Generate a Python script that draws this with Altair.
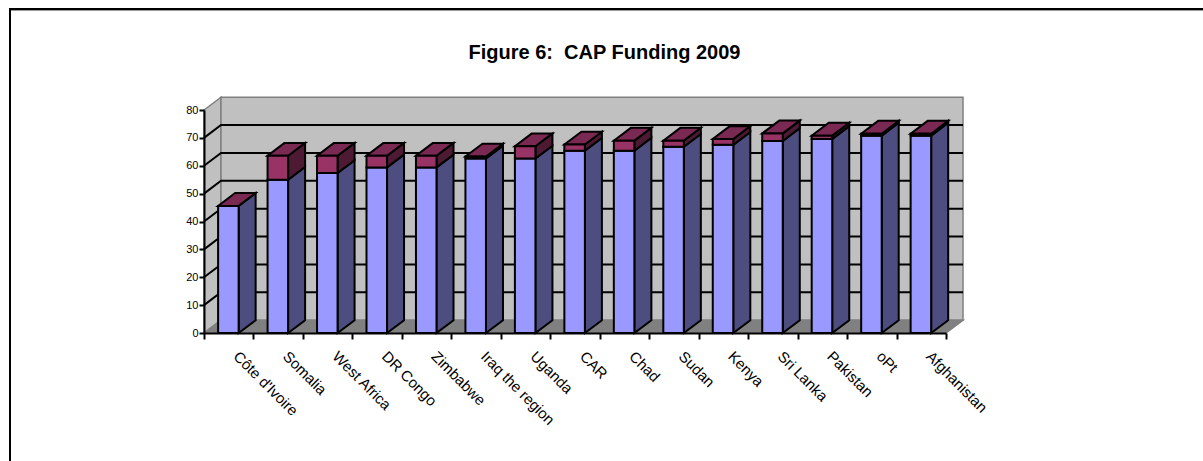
import altair as alt
import pandas as pd

# CAP funding 2009, per appeal, in percent
categories = ["Côte d'Ivoire", "Somalia", "West Africa", "DR Congo", "Zimbabwe",
              "Iraq the region", "Uganda", "CAR", "Chad", "Sudan", "Kenya",
              "Sri Lanka", "Pakistan", "oPt", "Afghanistan"]
lower_values = [45.6, 55.0, 57.4, 59.4, 59.4, 62.6, 62.6, 65.4, 65.4, 66.8, 67.5,
                68.9, 69.6, 70.8, 70.8]
total_values = [45.6, 63.6, 63.6, 63.6, 63.6, 63.3, 67.0, 67.6, 69.0, 69.0, 69.6,
                71.6, 70.8, 71.5, 71.5]
y_ticks = [0, 10, 20, 30, 40, 50, 60, 70, 80]
chart_title = "Figure 6:\u00a0 CAP Funding 2009"

N = len(categories)
DEPTH_X = 0.344   # receding depth of the box, in category units
DEPTH_Y = 4.6     # receding depth of the box, in value units
BAR_START = 0.285
BAR_WIDTH = 0.415
FONT = "Liberation Sans"

BLUE, BLUE_SIDE = "#9999FF", "#4D4D80"
MAROON, MAROON_SIDE, MAROON_TOP = "#993366", "#4D1933", "#7A2952"
WALL, FLOOR, EDGE = "#C0C0C0", "#808080", "#808080"

x_scale = alt.Scale(domain=[0, N], nice=False, zero=False)
y_scale = alt.Scale(domain=[0, 80], nice=False, zero=False)
x_axis = alt.Axis(
    values=list(range(N + 1)), labels=False, tickSize=6, tickWidth=2, tickColor="black",
    domainColor="black", domainWidth=2, grid=False, zindex=1, title=None)
y_axis = alt.Axis(
    values=y_ticks, tickSize=5, tickWidth=2, tickColor="black", domainColor="black",
    domainWidth=2, grid=False, labelFont=FONT, labelFontSize=11, labelColor="black",
    labelPadding=1, zindex=1, title=None)
X = lambda f: alt.X(f, type="quantitative", scale=x_scale, axis=x_axis, stack=None)
Y = lambda f: alt.Y(f, type="quantitative", scale=y_scale, axis=y_axis, stack=None)


def vertical_face(rows, fill, stroke, width):
    """Parallelogram with two vertical edges."""
    return alt.Chart(pd.DataFrame(rows)).mark_area(
        orient="vertical", fill=fill, stroke=stroke, strokeWidth=width, opacity=1
    ).encode(x=X("x"), y=Y("y"), y2="y2:Q", detail="id:N")


def horizontal_face(rows, fill, stroke, width):
    """Parallelogram with two horizontal edges."""
    return alt.Chart(pd.DataFrame(rows)).mark_area(
        orient="horizontal", fill=fill, stroke=stroke, strokeWidth=width, opacity=1
    ).encode(y=Y("y"), x=X("x"), x2="x2:Q", detail="id:N")


def side_rows(lows, highs):
    rows = []
    for i, (lo, hi) in enumerate(zip(lows, highs)):
        if hi <= lo:
            continue
        right = i + BAR_START + BAR_WIDTH
        rows.append(dict(id=i, x=right, y=hi, y2=lo))
        rows.append(dict(id=i, x=right + DEPTH_X, y=hi + DEPTH_Y, y2=lo + DEPTH_Y))
    return rows


# Chart box: left wall, back wall and floor
left_wall = vertical_face(
    [dict(id=0, x=0, y=80, y2=0), dict(id=0, x=DEPTH_X, y=80 + DEPTH_Y, y2=DEPTH_Y)],
    WALL, EDGE, 1.5)
back_wall = alt.Chart(pd.DataFrame([dict(x=DEPTH_X, x2=N + DEPTH_X, y=DEPTH_Y, y2=80 + DEPTH_Y)])).mark_rect(
    fill=WALL, stroke=EDGE, strokeWidth=1.5, opacity=1
).encode(x=X("x"), x2="x2:Q", y=Y("y"), y2="y2:Q")
floor = horizontal_face(
    [dict(id=0, y=0, x=0, x2=N), dict(id=0, y=DEPTH_Y, x=DEPTH_X, x2=N + DEPTH_X)],
    FLOOR, EDGE, 1.5)

# Gridlines run up the left wall, then across the back wall
grid_rows = []
for v in y_ticks[1:-1]:
    grid_rows += [dict(v=v, s=0, x=0, y=v),
                  dict(v=v, s=1, x=DEPTH_X, y=v + DEPTH_Y),
                  dict(v=v, s=2, x=N + DEPTH_X, y=v + DEPTH_Y)]
grid = alt.Chart(pd.DataFrame(grid_rows)).mark_line(color="black", strokeWidth=2).encode(
    x=X("x"), y=Y("y"), detail="v:N", order="s:Q")

# Front faces of the stacked bars
bars = pd.DataFrame({
    "name": categories,
    "lower": lower_values,
    "total": total_values,
    "left": [i + BAR_START for i in range(N)],
    "right": [i + BAR_START + BAR_WIDTH for i in range(N)],
    "zero": [0] * N,
})
front_lower = alt.Chart(bars).mark_rect(fill=BLUE, stroke="black", strokeWidth=2, opacity=1).encode(
    x=X("left"), x2="right:Q", y=Y("zero"), y2="lower:Q")
front_upper = alt.Chart(bars[bars.total > bars.lower]).mark_rect(
    fill=MAROON, stroke="black", strokeWidth=2, opacity=1
).encode(x=X("left"), x2="right:Q", y=Y("lower"), y2="total:Q")

# Side and top faces
side_lower = vertical_face(side_rows([0] * N, lower_values), BLUE_SIDE, "black", 2)
side_upper = vertical_face(side_rows(lower_values, total_values), MAROON_SIDE, "black", 2)
top_rows = []
for i, t in enumerate(total_values):
    left = i + BAR_START
    top_rows.append(dict(id=i, y=t, x=left, x2=left + BAR_WIDTH))
    top_rows.append(dict(id=i, y=t + DEPTH_Y, x=left + DEPTH_X, x2=left + BAR_WIDTH + DEPTH_X))
top = horizontal_face(top_rows, MAROON_TOP, "black", 2)

labels = alt.Chart(pd.DataFrame({
    "name": categories,
    "pos": [i + 0.65 for i in range(N)],
})).mark_text(angle=45, align="left", baseline="middle", font=FONT, fontSize=15, color="black").encode(
    x=X("pos"), y=alt.value(244), text="name:N")

title = alt.Chart(pd.DataFrame({"t": [chart_title]})).mark_text(
    align="center", baseline="middle", font=FONT, fontSize=20, fontWeight="bold", color="black"
).encode(x=alt.value(400.5), y=alt.value(-57), text="t:N")

# Outer frame on the top and left edges of the page
frame_top = alt.Chart(pd.DataFrame({"a": [0]})).mark_rule(color="black", strokeWidth=2).encode(
    x=alt.value(-194), x2=alt.value(1000), y=alt.value(-101))
frame_shadow = alt.Chart(pd.DataFrame({"a": [0]})).mark_rule(color="#999999", strokeWidth=1).encode(
    x=alt.value(-193), x2=alt.value(1000), y=alt.value(-99.5))
frame_left = alt.Chart(pd.DataFrame({"a": [0]})).mark_rule(color="black", strokeWidth=2).encode(
    x=alt.value(-194), y=alt.value(-102), y2=alt.value(352))

chart = alt.layer(
    frame_top, frame_shadow, frame_left, title,
    left_wall, back_wall, floor, grid,
    side_lower, side_upper, top, front_lower, front_upper,
    labels,
).properties(
    width=742,
    height=223,
    padding={"left": 204, "top": 110, "right": 257, "bottom": 128},
    autosize=alt.AutoSizeParams(type="none"),
    background="white",
).configure_view(stroke=None)

chart.save("out.html", embed_options={"renderer": "svg", "actions": False})
